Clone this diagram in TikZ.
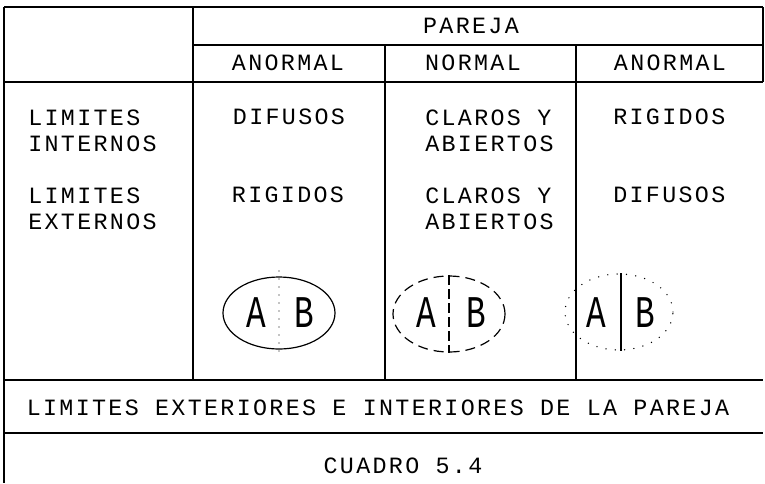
\documentclass[tikz,border=0pt]{standalone}
\usepackage{fontspec}
\newfontfamily\plotfont{Liberation Mono}[LetterSpace=10]
\newfontfamily\letrafont{Liberation Mono}[FakeStretch=0.72]
\usetikzlibrary{shapes.geometric}

\begin{document}
\begin{tikzpicture}[x=0.75pt,y=-0.75pt,
        rule/.style={line width=0.8pt},
        lbl/.style={font=\plotfont\fontsize{17.5}{19.5}\selectfont, inner sep=0pt},
        multi/.style={lbl, align=left, anchor=north west},
        letra/.style={font=\letrafont\fontsize{34}{34}\selectfont, inner sep=0pt},
        pareja/.style={ellipse, draw, line width=0.9pt, minimum width=84pt, minimum height=54pt, inner sep=0pt}]
    \useasboundingbox (0,0) rectangle (765,483);
    % cuadro
    \draw[rule] (4,7) -- (763,7);
    \draw[rule] (193,45) -- (763,45);
    \draw[rule] (4,82) -- (763,82);
    \draw[rule] (4,380) -- (763,380);
    \draw[rule] (4,433) -- (763,433);
    \draw[rule] (4,7) -- (4,483);
    \draw[rule] (763,7) -- (763,82);
    \draw[rule] (193,7) -- (193,380);
    \draw[rule] (385,45) -- (385,380);
    \draw[rule] (576,45) -- (576,380);
    % cabecera
    \node[lbl] (pareja) at (471,26) {PAREJA};
    \node[lbl] (anormal1) at (288,63) {ANORMAL};
    \node[lbl] (normal) at (473,63) {NORMAL};
    \node[lbl] (anormal2) at (670,63) {ANORMAL};
    % filas
    \node[multi] (internos) at (28,110) {LIMITES\\INTERNOS};
    \node[multi] (externos) at (28,188) {LIMITES\\EXTERNOS};
    \node[lbl] (difusos1) at (289,117) {DIFUSOS};
    \node[lbl] (rigidos1) at (288,195) {RIGIDOS};
    \node[multi] (claros1) at (425,110) {CLAROS Y\\ABIERTOS};
    \node[multi] (claros2) at (425,188) {CLAROS Y\\ABIERTOS};
    \node[lbl, anchor=west] (rigidos2) at (613,117) {RIGIDOS};
    \node[lbl, anchor=west] (difusos2) at (613,195) {DIFUSOS};
    % parejas
    \node[pareja] (p1) at (279,313) {};
    \node[letra] (a1) at (256,313) {A};
    \node[letra] (b1) at (304,313) {B};
    \draw[line width=0.9pt, line cap=round, dash pattern=on 0pt off 6pt,
        shorten <=-4pt, shorten >=-4pt] (p1.north) -- (p1.south);
    \node[pareja, minimum height=57pt, dash pattern=on 7.5pt off 4.5pt] (p2) at (449,314) {};
    \node[letra] (a2) at (426,313) {A};
    \node[letra] (b2) at (476,313) {B};
    \draw[line width=0.9pt, dash pattern=on 7.5pt off 3pt] (p2.north) -- (p2.south);
    \node[pareja, minimum width=81pt, minimum height=57pt, line width=1.1pt, line cap=round,
        dash pattern=on 0pt off 7pt] (p3) at (619,312) {};
    \node[letra] (a3) at (596,313) {A};
    \node[letra] (b3) at (645,313) {B};
    \draw[line width=0.9pt] (p3.north -| 621,0) -- (p3.south -| 621,0);
    % pie
    \node[lbl] (titulo) at (378,408) {LIMITES EXTERIORES E INTERIORES DE LA PAREJA};
    \node[lbl] (cuadro) at (403,466) {CUADRO 5.4};
\end{tikzpicture}
\end{document}
